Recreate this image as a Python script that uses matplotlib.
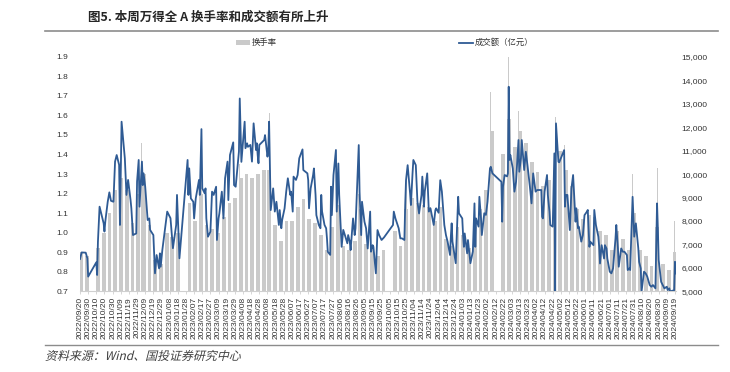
import matplotlib
matplotlib.use('Agg')
import matplotlib.pyplot as plt
import matplotlib.ticker as mticker
import numpy as np
import pandas as pd
from matplotlib.lines import Line2D
from matplotlib.patches import Rectangle, PathPatch
from matplotlib.textpath import TextPath
from matplotlib.font_manager import FontProperties
from matplotlib.transforms import Affine2D

plt.rcParams['font.family'] = ['Liberation Sans', 'Noto Sans CJK SC', 'DejaVu Sans']

title = '图5. 本周万得全 A 换手率和成交额有所上升'
source = '资料来源：Wind、国投证券研究中心'
bar_label = '换手率'
line_label = '成交额（亿元）'

# 成交额（亿元）
amt_dates = [
    '2022-09-20', '2022-09-22', '2022-09-27', '2022-09-29', '2022-09-30', '2022-10-10', '2022-10-11',
    '2022-10-12', '2022-10-14', '2022-10-17', '2022-10-19', '2022-10-20', '2022-10-21', '2022-10-24',
    '2022-10-26', '2022-10-28', '2022-10-31', '2022-11-02', '2022-11-04', '2022-11-07', '2022-11-08',
    '2022-11-10', '2022-11-14', '2022-11-16', '2022-11-18', '2022-11-21', '2022-11-22', '2022-11-24',
    '2022-11-28', '2022-11-29', '2022-12-01', '2022-12-02', '2022-12-05', '2022-12-06', '2022-12-07',
    '2022-12-09', '2022-12-12', '2022-12-14', '2022-12-15', '2022-12-19', '2022-12-21', '2022-12-23',
    '2022-12-26', '2022-12-27', '2022-12-28', '2022-12-30', '2023-01-03', '2023-01-05', '2023-01-09',
    '2023-01-12', '2023-01-16', '2023-01-17', '2023-01-20', '2023-01-30', '2023-01-31', '2023-02-01',
    '2023-02-03', '2023-02-06', '2023-02-07', '2023-02-09', '2023-02-13', '2023-02-14', '2023-02-16',
    '2023-02-17', '2023-02-20', '2023-02-21', '2023-02-22', '2023-02-24', '2023-02-27', '2023-03-01',
    '2023-03-03', '2023-03-06', '2023-03-07', '2023-03-09', '2023-03-10', '2023-03-13', '2023-03-15',
    '2023-03-17', '2023-03-20', '2023-03-21', '2023-03-23', '2023-03-27', '2023-03-28', '2023-03-30',
    '2023-04-03', '2023-04-04', '2023-04-06', '2023-04-10', '2023-04-11', '2023-04-13', '2023-04-14',
    '2023-04-17', '2023-04-19', '2023-04-21', '2023-04-24', '2023-04-25', '2023-04-26', '2023-04-27',
    '2023-04-28', '2023-05-04', '2023-05-05', '2023-05-08', '2023-05-09', '2023-05-10', '2023-05-12',
    '2023-05-15', '2023-05-17', '2023-05-19', '2023-05-22', '2023-05-23', '2023-05-25', '2023-05-26',
    '2023-05-29', '2023-05-31', '2023-06-02', '2023-06-05', '2023-06-06', '2023-06-08', '2023-06-09',
    '2023-06-12', '2023-06-14', '2023-06-16', '2023-06-20', '2023-06-21', '2023-06-26', '2023-06-27',
    '2023-06-28', '2023-06-30', '2023-07-03', '2023-07-04', '2023-07-06', '2023-07-07', '2023-07-10',
    '2023-07-12', '2023-07-13', '2023-07-14', '2023-07-17', '2023-07-19', '2023-07-20', '2023-07-21',
    '2023-07-24', '2023-07-25', '2023-07-26', '2023-07-28', '2023-07-31', '2023-08-01', '2023-08-03',
    '2023-08-04', '2023-08-07', '2023-08-09', '2023-08-11', '2023-08-14', '2023-08-15', '2023-08-17',
    '2023-08-18', '2023-08-21', '2023-08-23', '2023-08-24', '2023-08-28', '2023-08-29', '2023-08-31',
    '2023-09-01', '2023-09-04', '2023-09-06', '2023-09-08', '2023-09-11', '2023-09-12', '2023-09-14',
    '2023-09-15', '2023-09-18', '2023-09-20', '2023-09-22', '2023-09-25', '2023-09-28', '2023-10-09',
    '2023-10-10', '2023-10-12', '2023-10-16', '2023-10-18', '2023-10-20', '2023-10-23', '2023-10-24',
    '2023-10-25', '2023-10-27', '2023-10-30', '2023-10-31', '2023-11-02', '2023-11-03', '2023-11-06',
    '2023-11-08', '2023-11-10', '2023-11-13', '2023-11-14', '2023-11-16', '2023-11-17', '2023-11-20',
    '2023-11-22', '2023-11-24', '2023-11-28', '2023-11-30', '2023-12-01', '2023-12-04', '2023-12-06',
    '2023-12-08', '2023-12-11', '2023-12-13', '2023-12-15', '2023-12-18', '2023-12-19', '2023-12-20',
    '2023-12-21', '2023-12-25', '2023-12-28', '2023-12-29', '2024-01-02', '2024-01-03', '2024-01-04',
    '2024-01-05', '2024-01-08', '2024-01-09', '2024-01-11', '2024-01-12', '2024-01-15', '2024-01-17',
    '2024-01-18', '2024-01-19', '2024-01-22', '2024-01-23', '2024-01-25', '2024-01-26', '2024-01-29',
    '2024-01-31', '2024-02-02', '2024-02-05', '2024-02-06', '2024-02-08', '2024-02-19', '2024-02-20',
    '2024-02-21', '2024-02-23', '2024-02-26', '2024-02-27', '2024-02-28', '2024-02-29', '2024-03-01',
    '2024-03-04', '2024-03-05', '2024-03-06', '2024-03-08', '2024-03-11', '2024-03-12', '2024-03-14',
    '2024-03-15', '2024-03-18', '2024-03-20', '2024-03-22', '2024-03-25', '2024-03-27', '2024-03-28',
    '2024-03-29', '2024-04-01', '2024-04-03', '2024-04-08', '2024-04-09', '2024-04-10', '2024-04-12',
    '2024-04-15', '2024-04-16', '2024-04-18', '2024-04-19', '2024-04-22', '2024-04-24', '2024-04-25',
    '2024-04-26', '2024-04-29', '2024-04-30', '2024-05-06', '2024-05-07', '2024-05-08', '2024-05-09',
    '2024-05-10', '2024-05-13', '2024-05-15', '2024-05-17', '2024-05-20', '2024-05-21', '2024-05-23',
    '2024-05-24', '2024-05-27', '2024-05-29', '2024-05-31', '2024-06-03', '2024-06-04', '2024-06-06',
    '2024-06-07', '2024-06-11', '2024-06-12', '2024-06-14', '2024-06-17', '2024-06-18', '2024-06-19',
    '2024-06-21', '2024-06-24', '2024-06-25', '2024-06-27', '2024-06-28', '2024-07-01', '2024-07-03',
    '2024-07-05', '2024-07-08', '2024-07-09', '2024-07-11', '2024-07-12', '2024-07-15', '2024-07-17',
    '2024-07-19', '2024-07-22', '2024-07-23', '2024-07-25', '2024-07-26', '2024-07-29', '2024-07-31',
    '2024-08-02', '2024-08-05', '2024-08-06', '2024-08-08', '2024-08-09', '2024-08-12', '2024-08-14',
    '2024-08-16', '2024-08-19', '2024-08-21', '2024-08-23', '2024-08-26', '2024-08-28', '2024-08-29',
    '2024-08-30', '2024-09-02', '2024-09-04', '2024-09-06', '2024-09-09', '2024-09-10', '2024-09-12',
    '2024-09-13', '2024-09-18', '2024-09-19', '2024-09-20',
]
amt_values = [
    6380, 6660, 6650, 6410, 5630, 6240, 5700,
    7120, 8610, 8190, 7900, 7550, 7970, 8820,
    9220, 8860, 8820, 10530, 10810, 10390, 7830,
    12230, 10670, 9110, 9750, 8900, 8540, 7400,
    7470, 9680, 10600, 8610, 10530, 9530, 10030,
    9460, 8040, 8110, 7620, 7400, 5770, 6550,
    5980, 6620, 6050, 6760, 7830, 8400, 8120,
    6840, 7830, 9110, 6410, 10600, 9110, 10240,
    8960, 8820, 8110, 8960, 9750, 9110, 11915,
    9390, 9180, 9390, 8110, 7330, 7545, 9250,
    9110, 9460, 7190, 8110, 8325, 9250, 8110,
    9820, 10530, 8890, 10810, 11350, 9530, 9460,
    10960, 13220, 10520, 12230, 11100, 11310, 11160,
    11240, 10530, 12160, 11020, 11310, 10810, 10460,
    11240, 11450, 11660, 10740, 11020, 12230, 8465,
    9390, 8400, 8820, 7830, 8465, 7690, 8040,
    8540, 9250, 9820, 9110, 9250, 8400, 9890,
    9750, 9960, 10670, 11050, 10170, 10030, 9740,
    8540, 9390, 9960, 10240, 9110, 8250, 7830,
    7690, 9110, 8400, 7830, 7690, 7260, 6690,
    6555, 9460, 8250, 9960, 11025, 8400, 10450,
    9110, 6900, 7620, 7400, 7050, 7400, 7120,
    6760, 8110, 7400, 7690, 11235, 9250, 7400,
    8820, 7970, 7690, 6830, 8400, 6690, 6970,
    6900, 5770, 7615, 7400, 7190, 7300, 7830,
    8400, 8110, 7690, 7260, 7260, 7190, 8680,
    9740, 10380, 9170, 8680, 10030, 10600, 10380,
    8820, 8320, 9110, 9890, 8610, 9250, 10030,
    8400, 8540, 7830, 8465, 8540, 8350, 9740,
    9250, 7830, 7400, 7120, 6550, 7330, 7900,
    7120, 6200, 9030, 8325, 8110, 7400, 6900,
    7470, 6620, 7190, 6550, 6200, 6700, 8750,
    6900, 8110, 7760, 9030, 8110, 7400, 8330,
    8260, 8820, 10240, 10310, 10030, 9670, 7970,
    9460, 9960, 9900, 10030, 13720, 10600, 10810,
    10240, 9740, 9250, 9670, 11450, 10100, 10670,
    11450, 10170, 10950, 10380, 9460, 8750, 9390,
    10030, 9250, 9320, 9320, 8180, 8110, 9250,
    9960, 9110, 8400, 7830, 7760, 10880, 5000,
    12160, 10520, 10500, 11020, 8610, 9110, 9110,
    9110, 7615, 9390, 9960, 7970, 8540, 7690,
    7760, 7120, 7400, 8250, 8400, 8470, 6900,
    7120, 6970, 8470, 7830, 7330, 6900, 6190,
    6970, 6400, 6970, 6830, 6400, 5840, 5770,
    5980, 7250, 7830, 6830, 6050, 6830, 6690,
    6690, 6550, 5910, 5980, 5910, 9030, 7330,
    7900, 6830, 6260, 5980, 5000, 5840, 5770,
    5630, 5270, 5200, 5270, 5130, 8750, 7690,
    6340, 5410, 5270, 5130, 5200, 5060, 5130,
    5000, 5050, 6260, 5770,
]

# 换手率（%），每周一个值，从 2022-09-19 这一周开始；None 为休市周
week_starts = pd.date_range('2022-09-19', '2024-09-16', freq='7D')
turnover = [
    0.90, 0.88, None, 0.92, 1.00, 1.10, 1.22, 1.28, 1.22, 1.05,
    1.20, 1.30, 1.04, 0.86, 0.84, 1.00, 0.98, 1.00, None, 1.15,
    1.06, 1.20, 1.04, 1.02, 1.00, 1.08, 1.15, 1.18, 1.28, 1.30,
    1.28, 1.30, 1.32, 1.32, 1.04, 0.96, 1.06, 1.06, 1.13, 1.17,
    1.07, 1.05, 0.99, 0.91, 1.03, 1.14, 0.93, 0.91, 0.96, 1.12,
    0.94, 0.91, 0.88, 0.91, None, 1.01, 0.93, 1.12, 1.18, 1.15,
    1.14, 1.13, 1.06, 1.13, 0.97, 0.93, 1.03, 0.99, 0.92, 1.03,
    1.12, 1.22, 1.52, None, 1.40, 1.58, 1.44, 1.52, 1.46, 1.36,
    1.31, 1.24, 1.27, 1.32, 1.42, 1.32, 1.24, 1.12, 1.07, 1.09,
    1.08, 1.01, 0.99, 0.91, 1.01, 0.97, 0.91, 1.10, 0.91, 0.88,
    0.83, 1.03, 0.84, 0.81, 0.90,
]

# 单日换手率高点（%）
peak_dates = ['2022-12-05', '2023-02-16', '2023-04-04', '2023-05-10', '2023-08-28', '2023-10-25',
              '2024-02-06', '2024-02-28', '2024-03-11', '2024-04-26', '2024-05-06', '2024-07-29',
              '2024-08-28', '2024-09-19']
peak_values = [1.46, 1.50, 1.35, 1.61, 1.20, 1.28,
               1.72, 1.90, 1.62, 1.59, 1.45, 1.30,
               1.33, 1.06]

tick_dates = pd.date_range('2022-09-20', '2024-09-19', freq='10D')

bar_color = '#cacaca'
line_color = '#2f5b94'
cjk = ['Noto Sans CJK SC', 'DejaVu Sans']

fig = plt.figure(figsize=(7.3, 3.72), dpi=100)
ax = fig.add_axes([79.6 / 730, 1 - 291.4 / 372, 596.6 / 730, 234.7 / 372])
ax2 = ax.twinx()

tv = np.array([np.nan if v is None else v for v in turnover])
ok = ~np.isnan(tv)
ax.bar(week_starts[ok], tv[ok], width=4.6, align='edge', color=bar_color, linewidth=0, zorder=1)
ax.bar(pd.to_datetime(peak_dates), peak_values, width=1.2, align='center', color=bar_color,
       linewidth=0, zorder=1)

ax2.plot(pd.to_datetime(amt_dates), amt_values, color=line_color, lw=1.3, zorder=3,
         solid_joinstyle='round')

ax.set_xlim(pd.Timestamp('2022-09-19 12:00'), pd.Timestamp('2024-09-20 12:00'))
ax.set_ylim(0.7, 1.9)
ax2.set_ylim(5000, 15000)
ax.yaxis.set_major_locator(mticker.MultipleLocator(0.1))
ax.yaxis.set_major_formatter(mticker.FormatStrFormatter('%.1f'))
ax2.yaxis.set_major_locator(mticker.MultipleLocator(1000))
ax2.yaxis.set_major_formatter(mticker.FuncFormatter(lambda v, p: '{:,.0f}'.format(v)))

ax.set_xticks(tick_dates)
ax.set_xticklabels([d.strftime('%Y/%m/%d') for d in tick_dates], rotation=90, fontsize=6, color='#333333')

for a in (ax, ax2):
    for s in a.spines.values():
        s.set_visible(False)
ax.spines['bottom'].set_visible(True)
ax.spines['bottom'].set_color('#d0d0d0')
ax.spines['bottom'].set_linewidth(0.8)
ax.tick_params(axis='x', length=2, width=0.6, color='#d0d0d0', pad=2)
ax.tick_params(axis='y', length=0, labelsize=6, labelcolor='#333333', pad=8)
ax2.tick_params(axis='y', length=0, labelsize=6, labelcolor='#333333', pad=4)

# 标题与分隔线
fig.text(88 / 730, 1 - 17 / 372, title, fontsize=9, fontweight='bold', color='#262626',
         ha='left', va='center', family=cjk)
fig.add_artist(Line2D([45 / 730, 718 / 730], [1 - 31 / 372] * 2, color='#8c8c8c', lw=1.2))

# 图例
fig.add_artist(Rectangle((236 / 730, 1 - 45 / 372), 14 / 730, 5 / 372, color=bar_color, lw=0))
fig.text(252 / 730, 1 - 42.5 / 372, bar_label, fontsize=6, color='#333333', ha='left', va='center',
         family=cjk)
fig.add_artist(Line2D([459 / 730, 473 / 730], [1 - 42.5 / 372] * 2, color=line_color, lw=1.3))
fig.text(475 / 730, 1 - 42.5 / 372, line_label, fontsize=6, color='#333333', ha='left', va='center',
         family=cjk)

# 底部来源（斜体效果用错切）
fig.add_artist(Line2D([45 / 730, 718 / 730], [1 - 345 / 372] * 2, color='#8c8c8c', lw=1.0))
src_path = TextPath((0, 0), source, prop=FontProperties(family='Noto Sans CJK SC', size=8.6))
src_tr = Affine2D().skew_deg(14, 0).scale(fig.dpi / 72).translate(45, 372 - 360)
fig.add_artist(PathPatch(src_path, transform=src_tr, facecolor='#404040', lw=0))

fig.savefig('out.png', dpi=100)
